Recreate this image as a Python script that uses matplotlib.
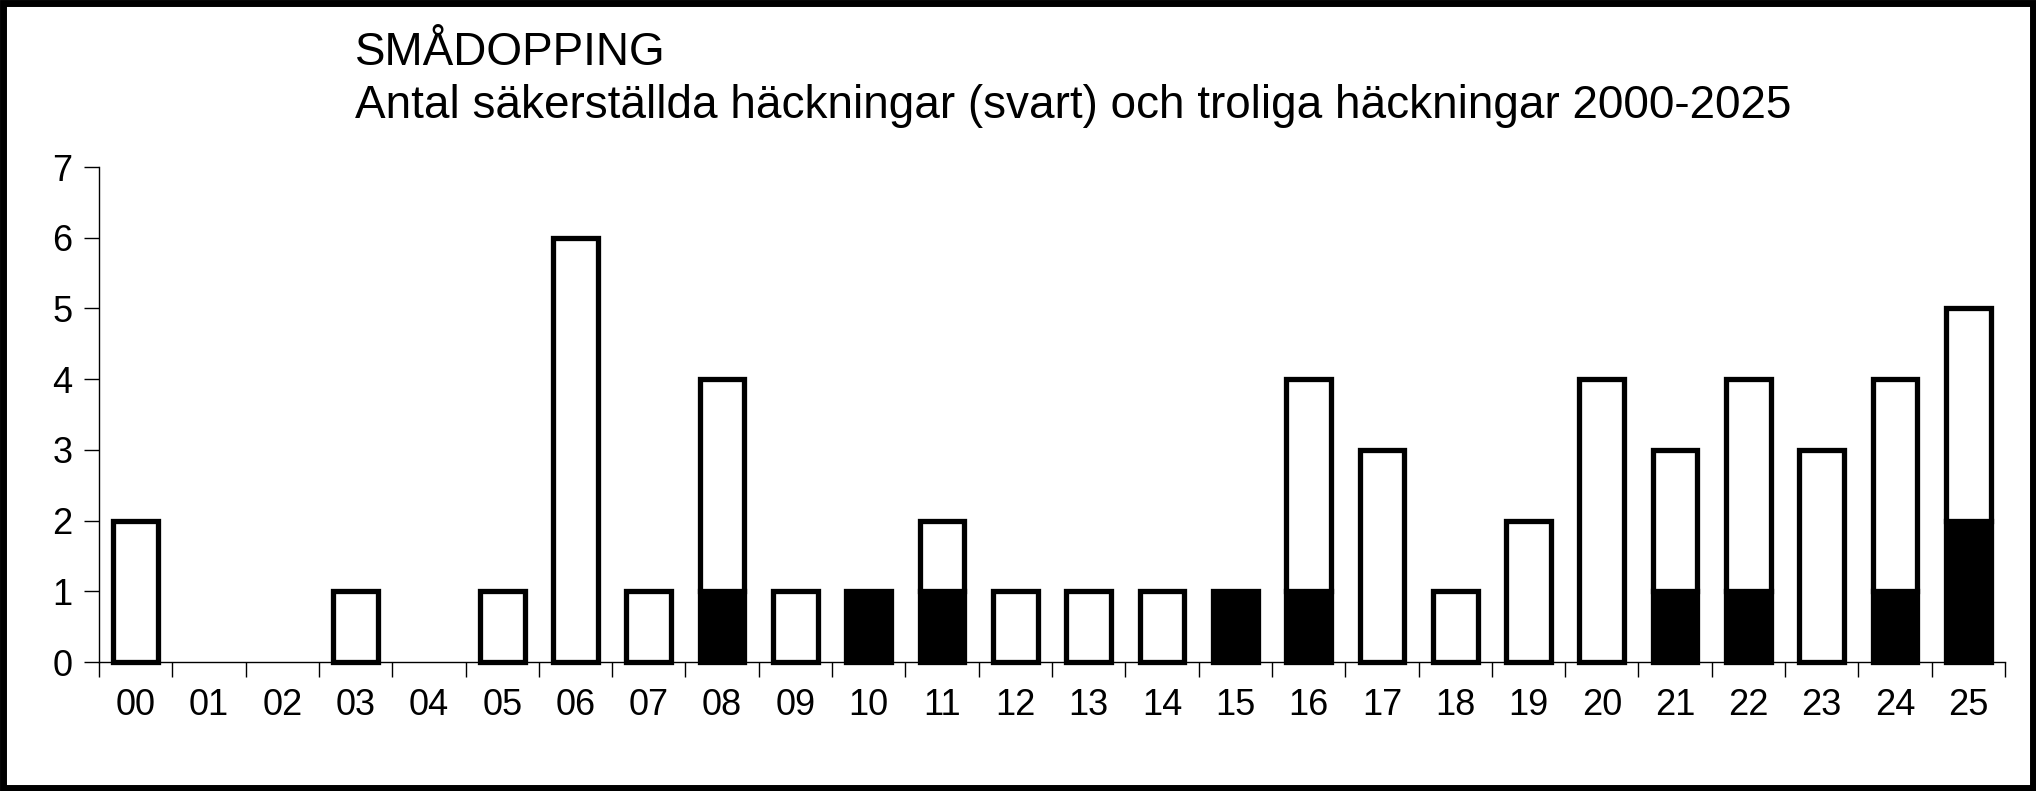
import matplotlib.pyplot as plt
import matplotlib.patches as patches
import numpy as np

plt.rcParams['font.family'] = ['Liberation Sans', 'DejaVu Sans']

# data
years = ['00', '01', '02', '03', '04', '05', '06', '07', '08', '09', '10', '11', '12',
         '13', '14', '15', '16', '17', '18', '19', '20', '21', '22', '23', '24', '25']
confirmed = [0, 0, 0, 0, 0, 0, 0, 0, 1, 0, 1, 1, 0, 0, 0, 1, 1, 0, 0, 0, 0, 1, 1, 0, 1, 2]
total = [2, 0, 0, 1, 0, 1, 6, 1, 4, 1, 1, 2, 1, 1, 1, 1, 4, 3, 1, 2, 4, 3, 4, 3, 4, 5]

title1 = "SMÅDOPPING"
title2 = "Antal säkerställda häckningar (svart) och troliga häckningar 2000-2025"

conf = np.array(confirmed)
prob = np.array(total) - conf
x = np.arange(len(years))

fig = plt.figure(figsize=(20.36, 7.91), dpi=100)
ax = fig.add_axes([99/2036, 1-662/791, (2005-99)/2036, (662-167)/791])

w = 0.61
lw = 3.8
m = conf > 0
ax.bar(x[m], conf[m], width=w, color='black', edgecolor='black', linewidth=lw,
       clip_on=False, zorder=3)
m = prob > 0
ax.bar(x[m], prob[m], bottom=conf[m], width=w, color='white', edgecolor='black',
       linewidth=lw, clip_on=False, zorder=3)

ax.set_xlim(-0.5, len(years) - 0.5)
ax.set_ylim(0, 7)
ax.set_yticks(range(8))
ax.tick_params(axis='y', labelsize=26, length=11, width=1, pad=8)

# ticks between categories, labels in the middle
ax.set_xticks(np.arange(len(years) + 1) - 0.5)
ax.set_xticklabels([])
ax.set_xticks(x, minor=True)
ax.set_xticklabels(years, minor=True)
ax.tick_params(axis='x', which='major', length=11, width=1)
ax.tick_params(axis='x', which='minor', length=0, labelsize=26, pad=19)

for s in ['top', 'right']:
    ax.spines[s].set_visible(False)
for s in ['left', 'bottom']:
    ax.spines[s].set_linewidth(1)

fig.text(355/2036, 1-65/791, title1, fontsize=33, va='baseline', ha='left')
fig.text(355/2036, 1-118/791, title2, fontsize=33, va='baseline', ha='left')

# outer frame
fig.patches.append(patches.Rectangle((0.0015, 0.004), 0.997, 0.992, transform=fig.transFigure,
                                     fill=False, edgecolor='black', linewidth=5))

fig.savefig('out.png', dpi=100)
